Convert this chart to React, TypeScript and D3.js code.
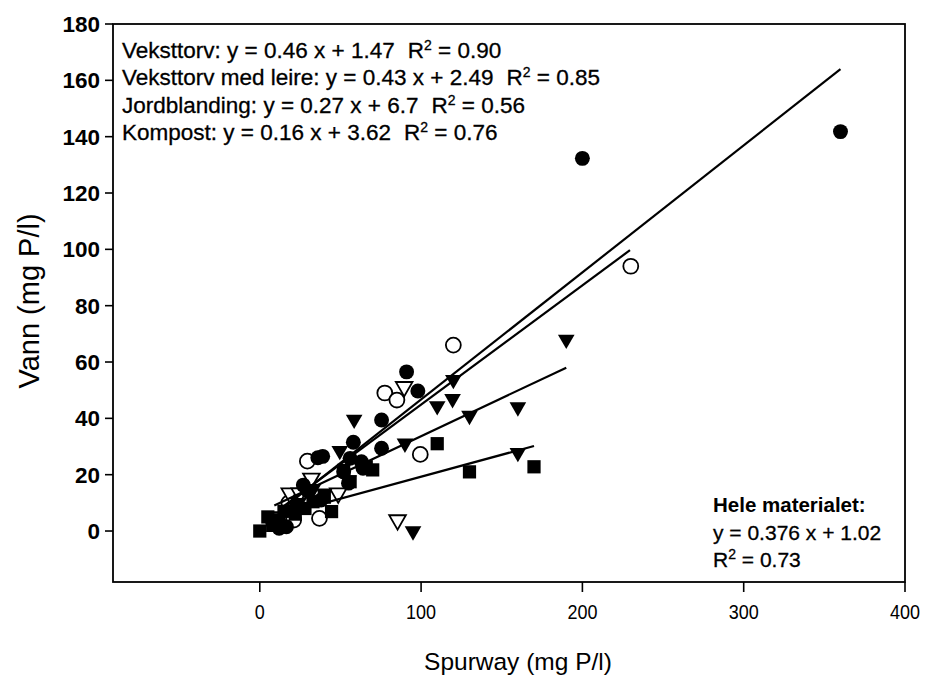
import React from "react";
import * as d3 from "d3";

const xTicks = [0, 100, 200, 300, 400];
const yTicks = [0, 20, 40, 60, 80, 100, 120, 140, 160, 180];

// Veksttorv (filled circles)
const vekstX = [360, 200, 91, 98, 75.5, 58, 75.5, 63, 56, 36, 39, 64, 52, 55, 27, 38, 22.7, 16.5, 12, 8, 30];
const vekstY = [141.8, 132.3, 56.5, 49.7, 39.4, 31.5, 29.4, 24.6, 25.8, 26, 26.5, 22.3, 21, 17, 16.3, 11, 8.6, 1.5, 1, 3, 14];
// Veksttorv med leire (open circles)
const leireX = [230, 120, 77.5, 85, 99.5, 29.5, 37, 21, 18];
const leireY = [94, 66, 49, 46.5, 27.2, 24.8, 4.5, 3.9, 10];
// Jordblanding (filled triangles)
const jordX = [190, 120, 110, 119.5, 160, 130, 58.5, 90, 49.6, 160, 95, 40, 55, 33, 24];
const jordY = [68, 53.7, 44.4, 46.9, 44, 41, 39.6, 31.1, 28.5, 27.8, 0, 13.4, 18, 15, 10];
// Other (open triangles)
const openTriX = [89.5, 85.4, 32, 18.6, 24.8, 48.6, 10];
const openTriY = [51.2, 3.9, 18.7, 13.4, 13.4, 13.4, 5];
// Kompost (filled squares)
const kompX = [110, 70, 130, 170, 66, 56, 52, 44.5, 33, 0, 8, 5, 12, 15, 22, 28, 40];
const kompY = [31, 21.7, 21, 22.8, 22.8, 17.5, 21.5, 6.9, 10.4, 0, 2, 5, 4, 7, 6, 8, 12];

// Regression lines (start / end points)
const regNames = ["Veksttorv", "Veksttorv med leire", "Jordblanding", "Kompost"];
const regX0 = [12, 14, 9, 2];
const regY0 = [7, 8.5, 9.1, 4];
const regX1 = [360, 229.5, 190, 170];
const regY1 = [164, 99.7, 58, 30.2];
const regR2 = ["0.90", "0.85", "0.56", "0.76"];
const regEqText = ["y = 0.46 x + 1.47", "y = 0.43 x + 2.49", "y = 0.27 x + 6.7", "y = 0.16 x + 3.62"];

const W = 927;
const H = 677;
const x = d3.scaleLinear().domain([-91, 400]).range([113, 905]);
const y = d3.scaleLinear().domain([-18.1, 180]).range([582, 24]);

const FONT = "'Liberation Sans', Arial, Helvetica, sans-serif";

function pts(xs: number[], ys: number[]) {
  return xs.map((v, i) => [v, ys[i]] as [number, number]);
}

const circlePath = d3.symbol().type(d3.symbolCircle).size(175)()!;
const triPath = d3.symbol().type(d3.symbolTriangle).size(120)()!;
const squarePath = d3.symbol().type(d3.symbolSquare).size(175)()!;

export default function App() {
  const line = d3.line<[number, number]>().x((d) => x(d[0])).y((d) => y(d[1]));
  return (
    <svg width={W} height={H} style={{ position: "absolute", left: 0, top: 0, background: "#fff" }}>
      <rect x={0} y={0} width={W} height={H} fill="#fff" />
      {/* frame */}
      <rect x={113} y={24} width={792} height={558} fill="none" stroke="#000" strokeWidth={1.8} />
      {/* y ticks */}
      {yTicks.map((t) => (
        <g key={"yt" + t}>
          <line x1={105} x2={113} y1={y(t)} y2={y(t)} stroke="#000" strokeWidth={1.6} />
          <text x={100} y={y(t)} dy="0.36em" textAnchor="end" fontFamily={FONT} fontWeight="bold" fontSize={22.5}>
            {t}
          </text>
        </g>
      ))}
      {/* x ticks */}
      {xTicks.map((t) => (
        <g key={"xt" + t}>
          <line x1={x(t)} x2={x(t)} y1={582} y2={592} stroke="#000" strokeWidth={1.6} />
          <text x={x(t)} y={619} textAnchor="middle" fontFamily={FONT} fontSize={20} transform={`translate(${x(t)},0) scale(0.9,1) translate(${-x(t)},0)`}>
            {t}
          </text>
        </g>
      ))}
      {/* axis titles */}
      <text x={518} y={670} textAnchor="middle" fontFamily={FONT} fontSize={24.5}>
        Spurway (mg P/l)
      </text>
      <text transform="translate(39,301) rotate(-90)" textAnchor="middle" fontFamily={FONT} fontSize={29}>
        Vann (mg P/l)
      </text>

      {/* open symbols */}
      {pts(leireX, leireY).map((d, i) => (
        <path key={"oc" + i} d={circlePath} transform={`translate(${x(d[0])},${y(d[1])})`} fill="#fff" stroke="#000" strokeWidth={1.8} />
      ))}
      {pts(openTriX, openTriY).map((d, i) => (
        <path key={"ot" + i} d={triPath} transform={`translate(${x(d[0])},${y(d[1])}) rotate(180)`} fill="#fff" stroke="#000" strokeWidth={1.8} />
      ))}
      {/* filled symbols */}
      {pts(kompX, kompY).map((d, i) => (
        <path key={"sq" + i} d={squarePath} transform={`translate(${x(d[0])},${y(d[1])})`} fill="#000" />
      ))}
      {pts(vekstX, vekstY).map((d, i) => (
        <path key={"fc" + i} d={circlePath} transform={`translate(${x(d[0])},${y(d[1])})`} fill="#000" />
      ))}
      {pts(jordX, jordY).map((d, i) => (
        <path key={"ft" + i} d={triPath} transform={`translate(${x(d[0])},${y(d[1])}) rotate(180)`} fill="#000" />
      ))}

      {/* regression lines */}
      {regX0.map((x0, i) => (
        <path
          key={"reg" + i}
          d={line([
            [x0, regY0[i]],
            [regX1[i], regY1[i]],
          ])!}
          stroke="#000"
          strokeWidth={2.2}
          fill="none"
        />
      ))}

      {/* equations */}
      {regNames.map((n, i) => (
        <text key={"eq" + i} x={122} y={58 + i * 27.3} fontFamily={FONT} fontSize={22.5} stroke="#000" strokeWidth={0.3}>
          {n}: {regEqText[i]}
          <tspan dx={13}>R</tspan>
          <tspan dy={-8} fontSize={14}>2</tspan>
          <tspan dy={8}> = {regR2[i]}</tspan>
        </text>
      ))}

      <text x={713} y={512} fontFamily={FONT} fontSize={20.5} fontWeight="bold">
        Hele materialet:
      </text>
      <text x={713} y={540} fontFamily={FONT} fontSize={21} stroke="#000" strokeWidth={0.3}>
        y = 0.376 x + 1.02
      </text>
      <text x={713} y={567} fontFamily={FONT} fontSize={21} stroke="#000" strokeWidth={0.3}>
        R<tspan dy={-8} fontSize={14}>2</tspan>
        <tspan dy={8}> = 0.73</tspan>
      </text>
    </svg>
  );
}
